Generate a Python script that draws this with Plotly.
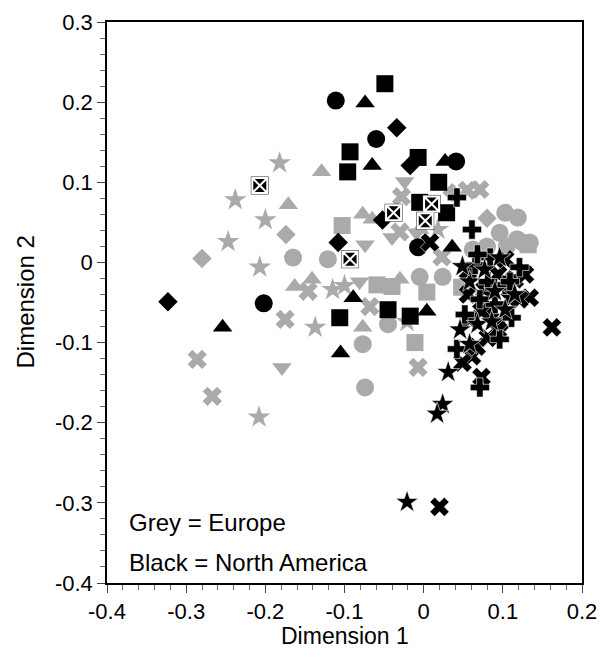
import plotly.graph_objects as go

GREY = "#aaaaaa"
BLACK = "#000000"

# ---- Europe (grey) ----
eu_circle_x = [-0.165, -0.121, 0.103, 0.119, 0.096, 0.118, 0.134, -0.005, 0.024, -0.077, -0.074, -0.045, 0.062, 0.080, 0.105, 0.125]
eu_circle_y = [0.006, 0.004, 0.062, 0.056, 0.037, 0.029, 0.025, -0.018, -0.018, -0.102, -0.156, -0.077, 0.016, 0.020, 0.020, 0.025]

eu_square_x = [-0.103, -0.059, -0.040, 0.004, 0.048, -0.011, 0.132]
eu_square_y = [0.046, -0.028, -0.030, -0.037, -0.031, -0.100, 0.022]

eu_tri_up_x = [-0.129, -0.171, -0.163, -0.141, -0.077, -0.030, -0.077, -0.065, -0.005]
eu_tri_up_y = [0.113, 0.072, -0.030, -0.021, -0.081, -0.021, 0.060, 0.054, 0.041]

eu_tri_dn_x = [-0.024, -0.040, -0.081, -0.179, -0.074, -0.009]
eu_tri_dn_y = [0.101, 0.031, -0.024, -0.131, 0.022, 0.037]

eu_diamond_x = [-0.280, -0.174, 0.036, 0.080]
eu_diamond_y = [0.005, 0.035, 0.087, 0.055]

eu_star_x = [-0.182, -0.238, -0.200, -0.247, -0.207, -0.115, -0.100, -0.137, -0.208, -0.021, 0.018]
eu_star_y = [0.124, 0.078, 0.053, 0.026, -0.006, -0.034, -0.029, -0.081, -0.193, -0.074, 0.041]

eu_x_x = [0.055, 0.071, -0.028, -0.030, -0.146, -0.175, -0.286, -0.267, -0.068, -0.007, 0.023]
eu_x_y = [0.090, 0.091, 0.082, 0.038, -0.036, -0.071, -0.121, -0.167, -0.055, -0.131, 0.007]

# ---- North America (black) ----
na_circle_x = [-0.111, -0.060, 0.041, -0.202, -0.007]
na_circle_y = [0.202, 0.154, 0.126, -0.051, 0.019]

na_square_x = [-0.049, -0.093, -0.096, -0.007, 0.019, -0.005, 0.029, -0.106, -0.045, -0.017]
na_square_y = [0.223, 0.138, 0.113, 0.131, 0.100, 0.075, 0.062, -0.069, -0.059, -0.067]

na_tri_x = [-0.074, -0.065, 0.027, -0.254, -0.105, 0.004, -0.089, 0.036]
na_tri_y = [0.199, 0.121, 0.126, -0.081, -0.113, -0.061, -0.044, 0.019]

na_diamond_x = [-0.034, -0.017, -0.052, -0.108, -0.323]
na_diamond_y = [0.168, 0.121, 0.053, 0.025, -0.049]

na_sqx_x = [-0.207, -0.038, 0.010, 0.002, -0.093]
na_sqx_y = [0.096, 0.062, 0.073, 0.052, 0.004]

na_x_x = [0.162, 0.134, 0.020, 0.073, 0.061, 0.049, 0.067, 0.096, 0.109, 0.084, 0.077, 0.058, 0.094, 0.115, 0.081, 0.008, 0.056,
          0.103, 0.128, 0.121, 0.094, 0.073, 0.056]
na_x_y = [-0.081, -0.044, -0.305, -0.143, -0.117, -0.125, -0.105, -0.075, -0.046, -0.059, -0.034, -0.071, -0.015, -0.021, -0.094, 0.025, -0.011,
          0.004, -0.015, -0.046, -0.084, -0.061, -0.040]

na_cross_x = [0.042, 0.071, 0.065, 0.103, 0.090, 0.121, 0.071, 0.052, 0.084, 0.111, 0.061, 0.042,
              0.109, 0.081, 0.068, 0.096]
na_cross_y = [-0.108, -0.156, -0.003, -0.028, -0.052, -0.006, -0.046, -0.065, 0.006, -0.069, 0.041, 0.081,
              -0.024, -0.024, 0.010, -0.096]

na_star_x = [0.031, 0.024, 0.017, -0.021, 0.068, 0.046, 0.090, 0.096, 0.058, 0.077, 0.049, 0.103,
             0.115, 0.086, 0.058]
na_star_y = [-0.137, -0.177, -0.189, -0.299, -0.077, -0.084, -0.036, 0.006, -0.024, -0.009, -0.005, -0.059,
             -0.040, -0.074, -0.102]

x_ticks = [-0.4, -0.3, -0.2, -0.1, 0, 0.1, 0.2]
x_tick_text = ["-0.4", "-0.3", "-0.2", "-0.1", "0", "0.1", "0.2"]
y_ticks = [-0.4, -0.3, -0.2, -0.1, 0, 0.1, 0.2, 0.3]
y_tick_text = ["-0.4", "-0.3", "-0.2", "-0.1", "0", "0.1", "0.2", "0.3"]

x_title = "Dimension 1"
y_title = "Dimension 2"
legend_lines = ["Grey = Europe", "Black = North America"]

FONT = "Liberation Sans, Arial, Helvetica, sans-serif"

fig = go.Figure()


def add(xs, ys, symbol, color, size, line_color=None, line_width=0):
    fig.add_trace(go.Scatter(
        x=xs, y=ys, mode="markers", showlegend=False, hoverinfo="skip",
        marker=dict(symbol=symbol, color=color, size=size,
                    line=dict(color=line_color or color, width=line_width)),
    ))


# grey (Europe)
add(eu_circle_x, eu_circle_y, "circle", GREY, 18)
add(eu_square_x, eu_square_y, "square", GREY, 17)
add(eu_tri_up_x, eu_tri_up_y, "triangle-up", GREY, 17)
add(eu_tri_dn_x, eu_tri_dn_y, "triangle-down", GREY, 17)
add(eu_diamond_x, eu_diamond_y, "diamond", GREY, 15)
add(eu_star_x, eu_star_y, "star", GREY, 17)
add(eu_x_x, eu_x_y, "x", GREY, 17)

# black (North America)
add(na_circle_x, na_circle_y, "circle", BLACK, 18)
add(na_square_x, na_square_y, "square", BLACK, 17)
add(na_tri_x, na_tri_y, "triangle-up", BLACK, 17)
add(na_diamond_x, na_diamond_y, "diamond", BLACK, 15)
add(na_x_x, na_x_y, "x", BLACK, 17, "white", 0.6)
add(na_cross_x, na_cross_y, "cross", BLACK, 16, "white", 0.6)
add(na_star_x, na_star_y, "star", BLACK, 17, "white", 0.6)
add(na_sqx_x, na_sqx_y, "square", "#333333", 18)
add(na_sqx_x, na_sqx_y, "square-x", BLACK, 15, "white", 2)

axis_common = dict(
    showline=True, linecolor="black", linewidth=1.5, mirror=True,
    ticks="outside", ticklen=8, tickwidth=1, tickcolor="#444444",
    showgrid=False, zeroline=False, automargin=False,
    tickfont=dict(family=FONT, size=22, color="black"),
    minor=dict(ticks="outside", ticklen=5, tickwidth=1, tickcolor="#666666", dtick=0.02, showgrid=False),
)

# The page body has an 8px margin, so the figure is sized to fit inside the window.
fig.update_layout(
    width=592, height=641,
    margin=dict(l=99, r=18, t=14, b=66),
    paper_bgcolor="white", plot_bgcolor="white",
    font=dict(family=FONT, color="black"),
    xaxis=dict(range=[-0.4, 0.2], tickvals=x_ticks, ticktext=x_tick_text, **axis_common),
    yaxis=dict(range=[-0.4, 0.3], tickvals=y_ticks, ticktext=y_tick_text, **axis_common),
    annotations=[
        dict(x=0.5, y=0, xref="paper", yref="paper", text=x_title, showarrow=False,
             xanchor="center", yanchor="middle", yshift=-53,
             font=dict(family=FONT, size=23, color="black")),
        dict(x=0, y=0.5, xref="paper", yref="paper", text=y_title, showarrow=False,
             textangle=-90, xanchor="center", yanchor="middle", xshift=-82,
             font=dict(family=FONT, size=24, color="black")),
        dict(x=-0.375, y=-0.325, xref="x", yref="y", text=legend_lines[0], showarrow=False,
             xanchor="left", yanchor="middle", font=dict(family=FONT, size=24, color="black")),
        dict(x=-0.375, y=-0.374, xref="x", yref="y", text=legend_lines[1], showarrow=False,
             xanchor="left", yanchor="middle", font=dict(family=FONT, size=24, color="black")),
    ],
)

fig.write_html("out.html")
